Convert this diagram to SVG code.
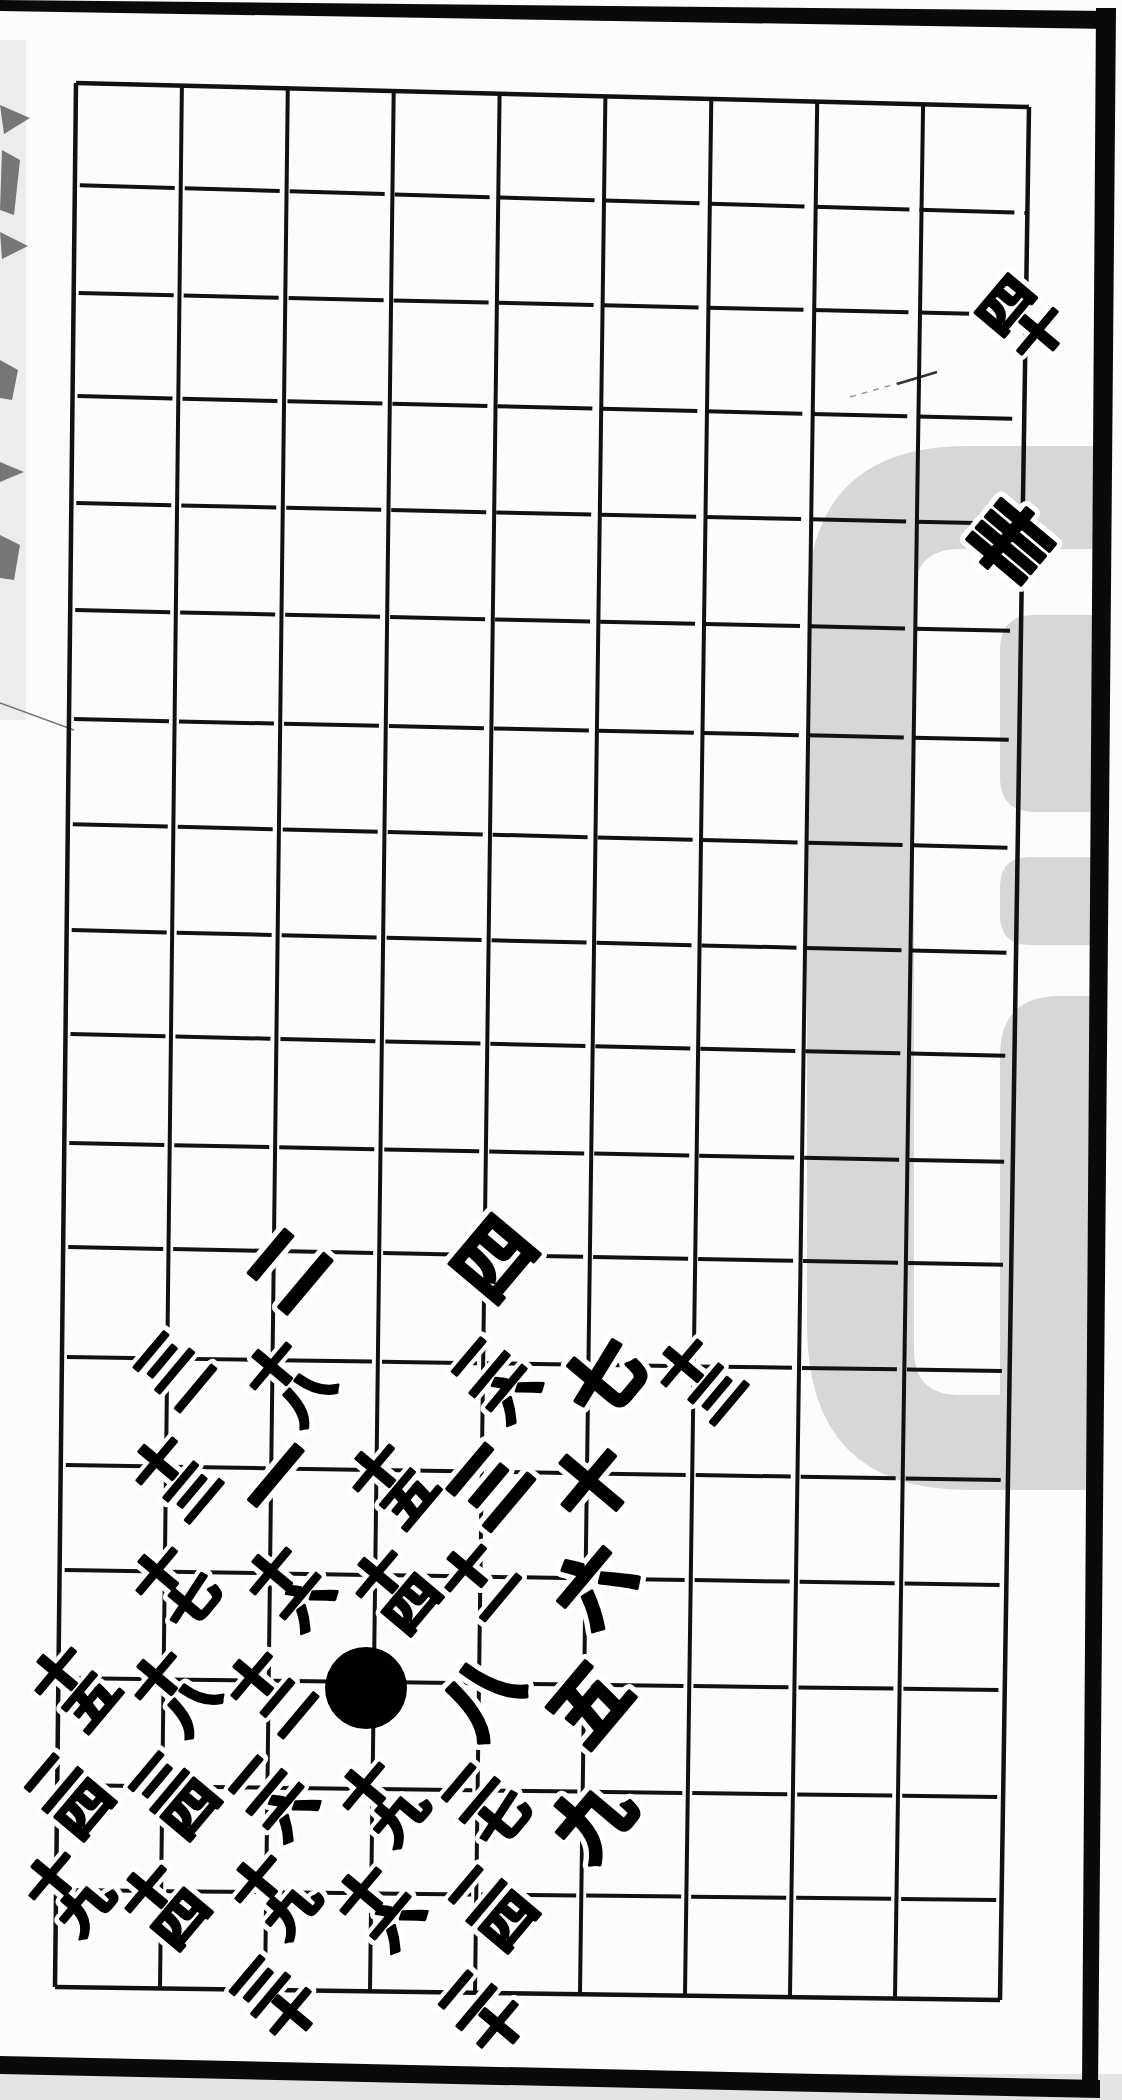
<svg xmlns="http://www.w3.org/2000/svg" width="1122" height="2100" viewBox="0 0 1122 2100">
<defs>
<style>
.wm{fill:#d7d7d7}
.ln{stroke:#111;stroke-width:4;fill:none}
.h{stroke-dasharray:95 10;stroke-dashoffset:100}
.ed{stroke:#111;stroke-width:4.5;fill:none}
.fr{fill:#0a0a0a}
.sm{fill:#444;opacity:.7}
.t{font-family:"Noto Sans CJK SC","Noto Sans CJK TC",sans-serif;font-weight:700;font-size:78px;text-anchor:middle;dominant-baseline:central;stroke-linejoin:round}
.k{font-size:60px}
.ink{fill:#000;stroke:#000;stroke-width:3.5px}
.halo{fill:#fff;stroke:#fff;stroke-width:14px}
</style>
</defs>
<rect width="1122" height="2100" fill="#fcfcfc"/>
<rect x="0" y="2074" width="1122" height="26" fill="#e4e4e4"/>
<rect x="0" y="40" width="26" height="680" fill="#ececec"/>
<g id="watermark">
<path class="wm" d="M1100,446 H968 Q807,446 807,607 V1325 Q807,1490 968,1490 H1100 V1395 H960 Q914,1395 914,1350 V595 Q914,549 960,549 H1100 Z"/>
<path class="wm" d="M1100,615 H1035 Q1000,615 1000,650 V777 Q1000,812 1035,812 H1100 Z"/>
<path class="wm" d="M1100,857 H1030 Q1000,857 1000,887 V915 Q1000,945 1030,945 H1100 Z"/>
<path class="wm" d="M1100,996 H1060 Q1000,996 1000,1056 V1395 H1100 Z"/>
</g>
<g id="margin">
<path class="sm" d="M0,105 L30,118 L4,134 Z"/>
<path class="sm" d="M0,232 L28,246 L2,259 Z"/>
<path class="sm" d="M0,462 L24,472 L0,482 Z"/>
<path class="sm" d="M2,150 L20,160 L14,215 L0,210 Z" opacity=".35"/>
<path class="sm" d="M0,360 L18,370 L12,400 L0,398 Z" opacity=".35"/>
<path class="sm" d="M0,535 L20,545 L14,580 L0,578 Z" opacity=".35"/>
<line x1="0" y1="703" x2="74" y2="730" stroke="#777" stroke-width="1.5"/>
<line x1="850" y1="397" x2="937" y2="372" stroke="#999" stroke-width="1.5" stroke-dasharray="6 6"/>
<line x1="897" y1="384" x2="937" y2="372" stroke="#333" stroke-width="2.5"/>
</g>
<g id="grid">
<line class="ed" x1="76" y1="83" x2="1029" y2="107"/>
<line class="ln h" x1="74.8" y1="185" x2="1027.4" y2="213"/>
<line class="ln h" x1="73.7" y1="293" x2="1025.8" y2="315"/>
<line class="ln h" x1="72.5" y1="396" x2="1024.2" y2="419"/>
<line class="ln h" x1="71.3" y1="503" x2="1022.6" y2="524"/>
<line class="ln h" x1="70.2" y1="610" x2="1020.9" y2="631"/>
<line class="ln h" x1="69" y1="719" x2="1019.3" y2="740"/>
<line class="ln h" x1="67.8" y1="824" x2="1017.7" y2="848"/>
<line class="ln h" x1="66.7" y1="930" x2="1016.1" y2="953"/>
<line class="ln h" x1="65.5" y1="1034" x2="1014.5" y2="1056"/>
<line class="ln h" x1="64.3" y1="1143" x2="1012.9" y2="1162"/>
<line class="ln h" x1="63.2" y1="1247" x2="1011.3" y2="1265"/>
<line class="ln h" x1="62" y1="1357" x2="1009.7" y2="1371"/>
<line class="ln h" x1="60.8" y1="1465" x2="1008.1" y2="1480"/>
<line class="ln h" x1="59.7" y1="1570" x2="1006.4" y2="1585"/>
<line class="ln h" x1="58.5" y1="1678" x2="1004.8" y2="1690"/>
<line class="ln h" x1="57.3" y1="1785" x2="1003.2" y2="1797"/>
<line class="ln h" x1="56.2" y1="1890" x2="1001.6" y2="1900"/>
<line class="ed" x1="55" y1="1987" x2="1000" y2="2000"/>
<line class="ed" x1="76" y1="83" x2="55" y2="1987"/>
<line class="ln" x1="181.9" y1="85.7" x2="160" y2="1988.2"/>
<line class="ln" x1="287.8" y1="88.3" x2="265" y2="1989.4"/>
<line class="ln" x1="393.7" y1="91" x2="370" y2="1990.7"/>
<line class="ln" x1="499.6" y1="93.7" x2="475" y2="1991.9"/>
<line class="ln" x1="605.4" y1="96.3" x2="580" y2="1993.1"/>
<line class="ln" x1="711.3" y1="99" x2="685" y2="1994.3"/>
<line class="ln" x1="817.2" y1="101.7" x2="790" y2="1995.6"/>
<line class="ln" x1="923.1" y1="104.3" x2="895" y2="1996.8"/>
<line class="ed" x1="1029" y1="107" x2="1000" y2="2000"/>
</g>
<g id="stone"><circle cx="366" cy="1688" r="41" fill="#000"/></g>
<use href="#glyphs" class="halo"/>
<g class="ink">
<g id="glyphs">
<g id="n-9-2" transform="translate(1020,317) rotate(-50)"><text class="t k" transform="translate(0,-22) scale(1,0.78)">四</text><text class="t k" transform="translate(0,22) scale(1,0.78)">十</text></g>
<g id="n-9-4" transform="translate(1007,538) rotate(-50)"><text class="t">卌</text></g>
<g id="n-2-11" transform="translate(283,1265) rotate(-50)"><text class="t">二</text></g>
<g id="n-4-11" transform="translate(490,1255) rotate(-50)"><text class="t">四</text></g>
<g id="n-1-12" transform="translate(177,1373) rotate(-50)"><text class="t k" transform="translate(0,-22) scale(1,0.78)">三</text><text class="t k" transform="translate(0,22) scale(1,0.78)">一</text></g>
<g id="n-2-12" transform="translate(287,1380) rotate(-50)"><text class="t k" transform="translate(0,-22) scale(1,0.78)">十</text><text class="t k" transform="translate(0,22) scale(1,0.78)">八</text></g>
<g id="n-4-12" transform="translate(493,1377) rotate(-50)"><text class="t k" transform="translate(0,-22) scale(1,0.78)">二</text><text class="t k" transform="translate(0,22) scale(1,0.78)">六</text></g>
<g id="n-5-12" transform="translate(600,1375) rotate(-50)"><text class="t">七</text></g>
<g id="n-6-12" transform="translate(698,1377) rotate(-50)"><text class="t k" transform="translate(0,-22) scale(1,0.78)">十</text><text class="t k" transform="translate(0,22) scale(1,0.78)">三</text></g>
<g id="n-1-13" transform="translate(173,1475) rotate(-50)"><text class="t k" transform="translate(0,-22) scale(1,0.78)">十</text><text class="t k" transform="translate(0,22) scale(1,0.78)">三</text></g>
<g id="n-2-13" transform="translate(273,1473) rotate(-50)"><text class="t">一</text></g>
<g id="n-3-13" transform="translate(390,1482) rotate(-50)"><text class="t k" transform="translate(0,-22) scale(1,0.78)">十</text><text class="t k" transform="translate(0,22) scale(1,0.78)">五</text></g>
<g id="n-4-13" transform="translate(485,1482) rotate(-50)"><text class="t">三</text></g>
<g id="n-5-13" transform="translate(588,1480) rotate(-50)"><text class="t">十</text></g>
<g id="n-1-14" transform="translate(173,1585) rotate(-50)"><text class="t k" transform="translate(0,-22) scale(1,0.78)">十</text><text class="t k" transform="translate(0,22) scale(1,0.78)">七</text></g>
<g id="n-2-14" transform="translate(287,1585) rotate(-50)"><text class="t k" transform="translate(0,-22) scale(1,0.78)">十</text><text class="t k" transform="translate(0,22) scale(1,0.78)">六</text></g>
<g id="n-3-14" transform="translate(393,1588) rotate(-50)"><text class="t k" transform="translate(0,-22) scale(1,0.78)">十</text><text class="t k" transform="translate(0,22) scale(1,0.78)">四</text></g>
<g id="n-4-14" transform="translate(482,1582) rotate(-50)"><text class="t k" transform="translate(0,-22) scale(1,0.78)">十</text><text class="t k" transform="translate(0,22) scale(1,0.78)">一</text></g>
<g id="n-5-14" transform="translate(590,1582) rotate(-50)"><text class="t">六</text></g>
<g id="n-0-15" transform="translate(72,1685) rotate(-50)"><text class="t k" transform="translate(0,-22) scale(1,0.78)">十</text><text class="t k" transform="translate(0,22) scale(1,0.78)">五</text></g>
<g id="n-1-15" transform="translate(172,1690) rotate(-50)"><text class="t k" transform="translate(0,-22) scale(1,0.78)">十</text><text class="t k" transform="translate(0,22) scale(1,0.78)">八</text></g>
<g id="n-2-15" transform="translate(268,1690) rotate(-50)"><text class="t k" transform="translate(0,-22) scale(1,0.78)">十</text><text class="t k" transform="translate(0,22) scale(1,0.78)">二</text></g>
<g id="n-4-15" transform="translate(477,1693) rotate(-50)"><text class="t">八</text></g>
<g id="n-5-15" transform="translate(585,1700) rotate(-50)"><text class="t">五</text></g>
<g id="n-0-16" transform="translate(66,1793) rotate(-50)"><text class="t k" transform="translate(0,-22) scale(1,0.78)">二</text><text class="t k" transform="translate(0,22) scale(1,0.78)">四</text></g>
<g id="n-1-16" transform="translate(172,1793) rotate(-50)"><text class="t k" transform="translate(0,-22) scale(1,0.78)">三</text><text class="t k" transform="translate(0,22) scale(1,0.78)">四</text></g>
<g id="n-2-16" transform="translate(270,1795) rotate(-50)"><text class="t k" transform="translate(0,-22) scale(1,0.78)">二</text><text class="t k" transform="translate(0,22) scale(1,0.78)">六</text></g>
<g id="n-3-16" transform="translate(380,1800) rotate(-50)"><text class="t k" transform="translate(0,-22) scale(1,0.78)">十</text><text class="t k" transform="translate(0,22) scale(1,0.78)">九</text></g>
<g id="n-4-16" transform="translate(483,1803) rotate(-50)"><text class="t k" transform="translate(0,-22) scale(1,0.78)">二</text><text class="t k" transform="translate(0,22) scale(1,0.78)">七</text></g>
<g id="n-5-16" transform="translate(588,1815) rotate(-50)"><text class="t">九</text></g>
<g id="n-0-17" transform="translate(66,1890) rotate(-50)"><text class="t k" transform="translate(0,-22) scale(1,0.78)">十</text><text class="t k" transform="translate(0,22) scale(1,0.78)">九</text></g>
<g id="n-1-17" transform="translate(162,1903) rotate(-50)"><text class="t k" transform="translate(0,-22) scale(1,0.78)">十</text><text class="t k" transform="translate(0,22) scale(1,0.78)">四</text></g>
<g id="n-2-17" transform="translate(272,1893) rotate(-50)"><text class="t k" transform="translate(0,-22) scale(1,0.78)">十</text><text class="t k" transform="translate(0,22) scale(1,0.78)">九</text></g>
<g id="n-3-17" transform="translate(377,1905) rotate(-50)"><text class="t k" transform="translate(0,-22) scale(1,0.78)">十</text><text class="t k" transform="translate(0,22) scale(1,0.78)">六</text></g>
<g id="n-4-17" transform="translate(490,1905) rotate(-50)"><text class="t k" transform="translate(0,-22) scale(1,0.78)">二</text><text class="t k" transform="translate(0,22) scale(1,0.78)">四</text></g>
<g id="n-2-18" transform="translate(273,1997) rotate(-50)"><text class="t k" transform="translate(0,-22) scale(1,0.78)">三</text><text class="t k" transform="translate(0,22) scale(1,0.78)">十</text></g>
<g id="n-4-18" transform="translate(480,2010) rotate(-50)"><text class="t k" transform="translate(0,-22) scale(1,0.78)">二</text><text class="t k" transform="translate(0,22) scale(1,0.78)">十</text></g>
</g>
</g>
<g id="frame">
<polygon class="fr" points="0,0 1110,11 1110,29 0,11"/>
<polygon class="fr" points="1096,8 1116,8 1098,2090 1082,2090"/>
<polygon class="fr" points="0,2056 1100,2080 1100,2098 0,2074"/>
</g>
</svg>
